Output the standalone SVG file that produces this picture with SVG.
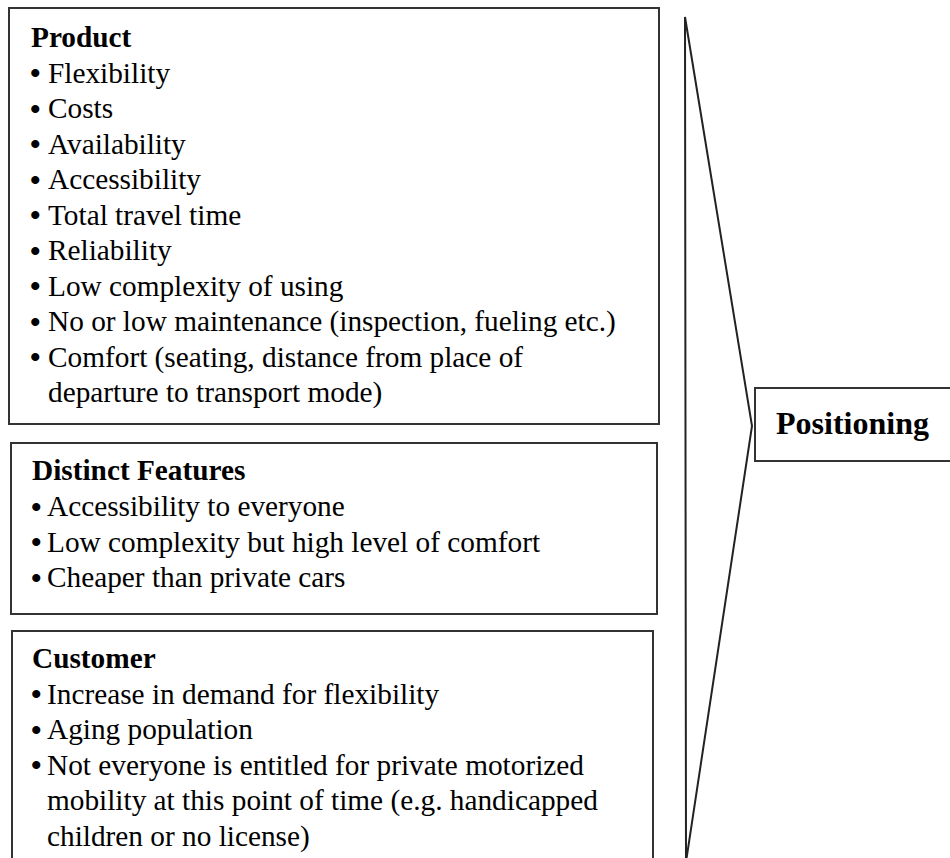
<svg xmlns="http://www.w3.org/2000/svg" width="950" height="858" viewBox="0 0 950 858">
<style>
.box{fill:#fff;stroke:#333;stroke-width:2}
.t{font-family:"Liberation Serif","Times New Roman",serif;font-size:29.3px;fill:#000}
.h{font-family:"Liberation Serif","Times New Roman",serif;font-size:29.3px;font-weight:bold;fill:#000}
.b{font-family:"Liberation Serif","Times New Roman",serif;font-size:30px;font-weight:bold;fill:#000}
.p{font-family:"Liberation Serif","Times New Roman",serif;font-size:32px;font-weight:bold;fill:#000}
.ln{fill:none;stroke:#222;stroke-width:2;stroke-linejoin:miter}
</style>
<rect width="950" height="858" fill="#fff"/>
<g id="connectors">
<polyline class="ln" points="686,862 685,17 752,426 686,862"/>
</g>
<g id="product">
<rect class="box" x="9" y="8" width="650" height="416"/>
<text class="h" x="31" y="47">Product</text>
<text class="b" x="30" y="83">•</text><text class="t" x="48" y="82.5">Flexibility</text>
<text class="b" x="30" y="118.5">•</text><text class="t" x="48" y="118">Costs</text>
<text class="b" x="30" y="154">•</text><text class="t" x="48" y="153.5">Availability</text>
<text class="b" x="30" y="189.5">•</text><text class="t" x="48" y="189">Accessibility</text>
<text class="b" x="30" y="225">•</text><text class="t" x="48" y="224.5">Total travel time</text>
<text class="b" x="30" y="260.5">•</text><text class="t" x="48" y="260">Reliability</text>
<text class="b" x="30" y="296">•</text><text class="t" x="48" y="295.5">Low complexity of using</text>
<text class="b" x="30" y="331.5">•</text><text class="t" x="48" y="331">No or low maintenance (inspection, fueling etc.)</text>
<text class="b" x="30" y="367">•</text><text class="t" x="48" y="366.5">Comfort (seating, distance from place of</text>
<text class="t" x="48" y="402">departure to transport mode)</text>
</g>
<g id="distinct">
<rect class="box" x="11" y="443" width="646" height="171"/>
<text class="h" x="32" y="480">Distinct Features</text>
<text class="b" x="31" y="516.5">•</text><text class="t" x="47" y="516">Accessibility to everyone</text>
<text class="b" x="31" y="552">•</text><text class="t" x="47" y="551.5">Low complexity but high level of comfort</text>
<text class="b" x="31" y="587.5">•</text><text class="t" x="47" y="587">Cheaper than private cars</text>
</g>
<g id="customer">
<rect class="box" x="12" y="631" width="641" height="240"/>
<text class="h" x="32" y="668">Customer</text>
<text class="b" x="31" y="704">•</text><text class="t" x="47" y="703.5">Increase in demand for flexibility</text>
<text class="b" x="31" y="739.5">•</text><text class="t" x="47" y="739">Aging population</text>
<text class="b" x="31" y="775">•</text><text class="t" x="47" y="774.5">Not everyone is entitled for private motorized</text>
<text class="t" x="47" y="810">mobility at this point of time (e.g. handicapped</text>
<text class="t" x="47" y="845.5">children or no license)</text>
</g>
<g id="positioning">
<rect class="box" x="755" y="388" width="210" height="73"/>
<text class="p" x="776" y="434">Positioning</text>
</g>
</svg>
